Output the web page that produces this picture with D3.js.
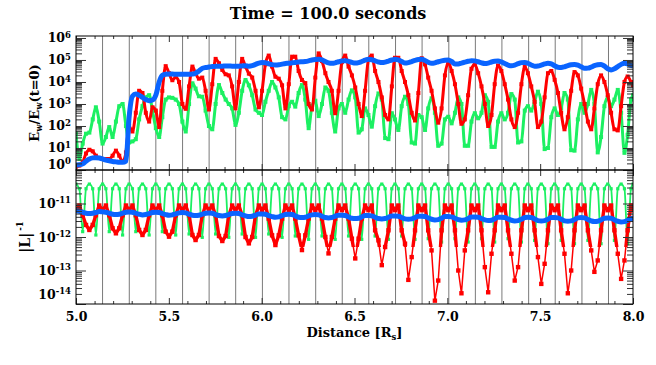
<!DOCTYPE html>
<html>
<head>
<meta charset="utf-8">
<script src="https://cdn.jsdelivr.net/npm/d3@7"></script>
<style>
  html, body { margin: 0; padding: 0; background: #fff; }
  svg { display: block; }
  text { font-family: "DejaVu Serif", serif; font-weight: bold; fill: #000; }
  .tick text { font-size: 12.5px; }
</style>
</head>
<body>
<svg id="chart" width="656" height="365"></svg>
<script>
// sample positions along the profile [R_s]
const distance = [
  5.000,5.018,5.036,5.054,5.072,5.090,5.107,5.125,
  5.143,5.161,5.179,5.197,5.215,5.233,5.251,5.269,
  5.286,5.304,5.322,5.340,5.358,5.376,5.394,5.412,
  5.430,5.448,5.465,5.483,5.501,5.519,5.537,5.555,
  5.573,5.591,5.609,5.627,5.644,5.662,5.680,5.698,
  5.716,5.734,5.752,5.770,5.788,5.806,5.823,5.841,
  5.859,5.877,5.895,5.913,5.931,5.949,5.967,5.985,
  6.002,6.020,6.038,6.056,6.074,6.092,6.110,6.128,
  6.146,6.164,6.181,6.199,6.217,6.235,6.253,6.271,
  6.289,6.307,6.325,6.343,6.360,6.378,6.396,6.414,
  6.432,6.450,6.468,6.486,6.504,6.522,6.539,6.557,
  6.575,6.593,6.611,6.629,6.647,6.665,6.683,6.701,
  6.718,6.736,6.754,6.772,6.790,6.808,6.826,6.844,
  6.862,6.880,6.897,6.915,6.933,6.951,6.969,6.987,
  7.005,7.023,7.041,7.059,7.076,7.094,7.112,7.130,
  7.148,7.166,7.184,7.202,7.220,7.238,7.255,7.273,
  7.291,7.309,7.327,7.345,7.363,7.381,7.399,7.417,
  7.434,7.452,7.470,7.488,7.506,7.524,7.542,7.560,
  7.578,7.596,7.613,7.631,7.649,7.667,7.685,7.703,
  7.721,7.739,7.757,7.775,7.792,7.810,7.828,7.846,
  7.864,7.882,7.900,7.918,7.936,7.954,7.971,7.989,
  8.000];

// vertical reference lines [R_s]
const gridX = [5.143,5.287,5.430,5.574,5.717,5.860,6.004,6.147,6.291,6.434,
               6.577,6.721,6.864,7.008,7.151,7.294,7.438,7.581,7.725,7.868];

// top panel: log10(E_w/E_w(t=0))
const ewBlueLog = [
  0.23,0.24,0.28,0.40,0.50,0.55,0.56,0.55,
  0.50,0.45,0.42,0.39,0.37,0.35,0.35,0.40,
  2.40,3.35,3.45,3.40,3.30,3.20,3.15,3.18,
  3.40,4.00,4.30,4.35,4.36,4.36,4.35,4.35,
  4.35,4.35,4.35,4.36,4.40,4.50,4.62,4.66,
  4.68,4.70,4.71,4.72,4.72,4.73,4.73,4.72,
  4.72,4.72,4.73,4.74,4.72,4.74,4.80,4.86,
  4.88,4.87,4.83,4.79,4.77,4.78,4.81,4.84,
  4.85,4.87,4.89,4.91,4.92,4.93,4.96,5.00,
  5.02,5.03,5.00,4.93,4.87,4.85,4.87,4.92,
  4.96,4.97,4.94,4.89,4.86,4.88,4.93,4.99,
  5.03,5.01,4.96,4.91,4.88,4.90,4.95,5.00,
  5.03,5.00,4.93,4.86,4.88,4.93,4.98,5.02,
  5.03,4.98,4.90,4.85,4.87,4.92,4.96,4.99,
  5.00,4.93,4.82,4.82,4.86,4.90,4.94,4.97,
  4.96,4.92,4.87,4.84,4.86,4.91,4.94,4.95,
  4.91,4.84,4.77,4.74,4.77,4.83,4.88,4.89,
  4.85,4.77,4.72,4.73,4.77,4.82,4.85,4.82,
  4.74,4.67,4.66,4.69,4.74,4.78,4.80,4.77,
  4.69,4.62,4.63,4.68,4.74,4.78,4.80,4.72,
  4.60,4.55,4.60,4.70,4.80,4.85,4.82,4.75,
  4.72];

const ewRedLog = [
  0.15,0.20,0.35,0.75,0.92,0.85,0.65,0.55,
  0.50,0.50,0.50,0.65,0.88,0.65,0.38,0.80,
  2.00,1.75,2.60,3.60,3.50,2.60,2.20,2.85,
  2.70,1.95,3.60,4.72,4.40,4.08,4.22,4.00,
  3.00,2.78,3.80,4.70,4.40,4.15,4.20,3.60,
  2.75,3.90,5.05,4.85,4.55,4.35,4.30,3.80,
  2.80,4.00,5.05,4.70,4.38,4.20,3.60,2.85,
  3.60,4.80,5.20,4.70,4.24,4.15,3.85,2.80,
  3.90,5.15,5.15,4.50,4.09,3.95,3.00,2.75,
  4.20,5.30,4.95,4.40,4.00,3.60,2.58,3.60,
  4.90,5.20,4.70,4.30,3.75,3.00,2.45,3.60,
  5.00,5.20,4.50,4.00,3.30,2.50,2.30,3.80,
  5.10,5.10,4.50,4.00,3.40,2.60,2.25,3.50,
  5.08,4.80,4.20,3.60,2.80,2.15,2.80,4.30,
  4.90,4.50,3.90,3.00,2.10,2.30,3.40,4.60,
  4.80,4.40,3.80,3.00,2.00,2.50,3.90,4.75,
  4.50,3.90,3.20,2.30,1.95,2.60,3.90,4.68,
  4.40,3.80,3.10,1.95,2.20,3.30,4.40,4.50,
  4.10,3.50,2.60,1.85,2.40,3.60,4.45,4.30,
  3.70,3.00,2.20,1.85,2.80,3.90,4.30,4.00,
  3.40,2.60,1.85,1.80,2.90,4.00,4.25,4.00,
  3.85];

const ewGreenLog = [
  1.67,0.50,1.20,1.65,1.70,2.30,2.85,2.20,
  1.20,1.50,1.95,1.50,2.20,2.90,3.00,2.00,
  1.25,1.30,1.40,2.30,2.90,3.30,3.40,2.70,
  1.90,1.50,2.40,3.20,3.30,3.28,3.20,3.00,
  2.20,1.75,3.00,3.94,3.70,3.35,3.33,2.70,
  2.00,1.85,3.00,3.86,3.50,3.20,3.00,2.80,
  2.05,2.60,3.60,4.09,3.85,3.40,2.75,2.60,
  2.50,3.10,3.60,4.00,3.75,3.30,2.40,2.30,
  2.90,3.10,2.88,3.50,3.86,3.20,1.90,2.90,
  3.15,2.45,3.00,3.75,3.60,2.60,1.75,2.80,
  3.00,2.60,3.20,3.62,3.30,1.70,1.85,2.80,
  2.50,1.97,2.90,3.48,3.20,1.45,1.40,2.58,
  2.30,1.82,2.90,3.33,3.00,1.25,1.20,2.50,
  2.40,1.82,2.80,3.26,2.60,1.10,1.20,2.30,
  2.42,2.12,2.60,3.30,3.00,1.10,1.10,2.20,
  2.58,2.35,2.60,3.40,3.10,1.05,1.05,2.20,
  2.58,2.30,2.60,3.45,3.20,1.25,1.30,2.70,
  2.90,2.70,3.10,3.56,3.00,0.95,1.00,2.40,
  2.80,2.50,2.80,3.50,3.20,0.90,0.88,2.30,
  3.00,2.60,3.00,3.64,3.00,0.80,1.50,2.90,
  3.30,2.90,3.20,3.64,2.60,0.78,1.60,3.20,
  3.40];

// bottom panel: log10(|L|^-1)
const lBlueLog = [
  -11.22,-11.23,-11.26,-11.29,-11.30,-11.29,-11.27,-11.24,
  -11.25,-11.26,-11.29,-11.32,-11.33,-11.32,-11.29,-11.26,
  -11.25,-11.26,-11.29,-11.32,-11.34,-11.33,-11.30,-11.27,
  -11.26,-11.27,-11.30,-11.33,-11.35,-11.34,-11.31,-11.28,
  -11.27,-11.28,-11.32,-11.35,-11.36,-11.35,-11.32,-11.29,
  -11.28,-11.29,-11.33,-11.36,-11.37,-11.36,-11.33,-11.30,
  -11.29,-11.30,-11.34,-11.37,-11.39,-11.38,-11.35,-11.31,
  -11.31,-11.32,-11.36,-11.39,-11.41,-11.40,-11.36,-11.33,
  -11.32,-11.33,-11.37,-11.41,-11.42,-11.41,-11.37,-11.34,
  -11.33,-11.34,-11.38,-11.42,-11.43,-11.42,-11.38,-11.35,
  -11.35,-11.36,-11.40,-11.44,-11.45,-11.44,-11.40,-11.36,
  -11.36,-11.37,-11.41,-11.45,-11.46,-11.45,-11.41,-11.37,
  -11.37,-11.38,-11.42,-11.46,-11.47,-11.46,-11.42,-11.38,
  -11.38,-11.39,-11.43,-11.47,-11.49,-11.48,-11.44,-11.39,
  -11.39,-11.40,-11.44,-11.48,-11.50,-11.49,-11.45,-11.40,
  -11.40,-11.41,-11.45,-11.49,-11.51,-11.50,-11.46,-11.41,
  -11.41,-11.42,-11.46,-11.50,-11.52,-11.51,-11.47,-11.42,
  -11.41,-11.42,-11.46,-11.51,-11.52,-11.51,-11.47,-11.42,
  -11.42,-11.43,-11.47,-11.52,-11.53,-11.52,-11.48,-11.43,
  -11.42,-11.43,-11.48,-11.52,-11.54,-11.53,-11.49,-11.44,
  -11.43,-11.44,-11.49,-11.53,-11.55,-11.54,-11.50,-11.45,
  -11.44];

const lRedLog = [
  -11.20,-11.06,-11.35,-11.64,-11.79,-11.64,-11.35,-11.06,
  -11.20,-11.06,-11.35,-11.74,-11.89,-11.74,-11.35,-11.06,
  -11.20,-11.06,-11.35,-11.79,-11.94,-11.79,-11.35,-11.06,
  -11.20,-11.06,-11.35,-11.84,-11.99,-11.84,-11.35,-11.06,
  -11.20,-11.06,-11.35,-11.94,-12.09,-11.94,-11.35,-11.06,
  -11.20,-11.06,-11.35,-11.97,-12.12,-11.97,-11.35,-11.06,
  -11.20,-11.06,-11.35,-12.00,-12.19,-12.00,-11.35,-11.06,
  -11.20,-11.06,-11.45,-11.95,-12.24,-11.95,-11.45,-11.06,
  -11.20,-11.06,-11.45,-11.95,-12.39,-11.95,-11.45,-11.06,
  -11.20,-11.06,-11.45,-12.00,-12.49,-12.00,-11.45,-11.06,
  -11.20,-11.06,-11.45,-12.05,-12.64,-12.05,-11.45,-11.06,
  -11.20,-11.06,-11.80,-12.10,-12.84,-12.30,-11.80,-11.06,
  -11.20,-11.06,-11.80,-12.20,-13.28,-12.60,-11.80,-11.06,
  -11.20,-11.06,-11.80,-12.40,-13.90,-13.30,-11.80,-11.06,
  -11.20,-11.06,-11.80,-13.00,-13.68,-12.40,-11.80,-11.06,
  -11.20,-11.06,-11.80,-12.90,-13.65,-12.50,-11.80,-11.06,
  -11.20,-11.06,-11.80,-12.50,-13.30,-12.90,-11.80,-11.06,
  -11.20,-11.06,-11.80,-12.60,-13.40,-12.80,-11.80,-11.06,
  -11.20,-11.06,-11.80,-12.50,-13.68,-13.00,-11.80,-11.06,
  -11.20,-11.06,-11.80,-12.40,-13.04,-12.70,-11.80,-11.06,
  -11.20,-11.06,-11.80,-12.50,-13.25,-12.70,-11.80,-11.06,
  -11.20];

const lGreenLog = [
  -10.42,-10.56,-11.84,-10.56,-10.42,-10.56,-11.94,-10.56,
  -10.42,-10.56,-11.84,-10.56,-10.42,-10.56,-11.94,-10.56,
  -10.42,-10.56,-11.84,-10.56,-10.42,-10.56,-11.94,-10.56,
  -10.42,-10.56,-11.84,-10.56,-10.42,-10.56,-11.94,-10.56,
  -10.42,-10.56,-11.91,-10.56,-10.42,-10.56,-12.01,-10.56,
  -10.42,-10.56,-11.91,-10.56,-10.42,-10.56,-12.01,-10.56,
  -10.42,-10.56,-11.91,-10.56,-10.42,-10.56,-12.01,-10.56,
  -10.42,-10.56,-11.91,-10.56,-10.42,-10.56,-12.01,-10.56,
  -10.42,-10.56,-11.97,-10.56,-10.42,-10.56,-12.07,-10.56,
  -10.42,-10.56,-11.97,-10.56,-10.42,-10.56,-12.07,-10.56,
  -10.42,-10.56,-11.97,-10.56,-10.42,-10.56,-12.07,-10.56,
  -10.42,-10.56,-11.97,-10.56,-10.42,-10.56,-12.07,-10.56,
  -10.42,-10.56,-11.97,-10.56,-10.42,-10.56,-12.07,-10.56,
  -10.42,-10.56,-12.05,-10.56,-10.42,-10.56,-12.15,-10.56,
  -10.42,-10.56,-12.05,-10.56,-10.42,-10.56,-12.15,-10.56,
  -10.42,-10.56,-12.05,-10.56,-10.42,-10.56,-12.15,-10.56,
  -10.42,-10.56,-12.05,-10.56,-10.42,-10.56,-12.15,-10.56,
  -10.42,-10.56,-12.10,-10.56,-10.42,-10.56,-12.20,-10.56,
  -10.42,-10.56,-12.10,-10.56,-10.42,-10.56,-12.20,-10.56,
  -10.42,-10.56,-12.10,-10.56,-10.42,-10.56,-12.20,-10.56,
  -10.42,-10.56,-12.10,-10.56,-10.42,-10.56,-12.20,-10.56,
  -10.42];

// axis ticks
const xMajor = [5.0, 5.5, 6.0, 6.5, 7.0, 7.5, 8.0];
const ewDecades = [1e0, 1e1, 1e2, 1e3, 1e4, 1e5, 1e6];
const lDecades = [1e-14, 1e-13, 1e-12, 1e-11, 1e-10];
const lLabelled = [1e-14, 1e-13, 1e-12, 1e-11];

const RED = "#ff0000", GREEN = "#1cf062", BLUE = "#0a64ff";

///////////////////////////////////////////////////////////////////////////////
// layout
const pL = 76, pR = 633, pT = 36, pM = 170, pB = 304;
const svg = d3.select("#chart");
svg.append("rect").attr("width", 656).attr("height", 365).attr("fill", "#fff");

const x = d3.scaleLinear().domain([5, 8]).range([pL, pR]);
const yTop = d3.scaleLog().domain([1, 1.23e6]).range([pM, pT]);
const yBot = d3.scaleLog().domain([1e-14, 1e-10]).range([pB, pM]);

const defs = svg.append("defs");
defs.append("clipPath").attr("id", "clipTop").append("rect")
  .attr("x", pL).attr("y", pT).attr("width", pR - pL).attr("height", pM - pT);
defs.append("clipPath").attr("id", "clipBot").append("rect")
  .attr("x", pL).attr("y", pM).attr("width", pR - pL).attr("height", pB - pM);
// dense part of the red curve (above ~5e-13) looks solid in the original
defs.append("clipPath").attr("id", "clipBotDense").append("rect")
  .attr("x", pL).attr("y", pM).attr("width", pR - pL).attr("height", yBot(5e-13) - pM);

// vertical reference lines through both panels
svg.append("g").selectAll("line").data(gridX).join("line")
  .attr("x1", d => x(d)).attr("x2", d => x(d))
  .attr("y1", pT).attr("y2", pB)
  .attr("stroke", "#7a7a7a").attr("stroke-width", 1);

///////////////////////////////////////////////////////////////////////////////
// series
function drawSeries(clip, yScale, logs, color, opt) {
  const g = svg.append("g").attr("clip-path", "url(#" + clip + ")");
  const pts = distance.map((d, i) => [x(d), yScale(Math.pow(10, logs[i]))]);
  g.append("path")
    .attr("d", d3.line().curve(opt.curve)(pts))
    .attr("fill", "none").attr("stroke", color)
    .attr("stroke-width", opt.width).attr("stroke-linejoin", "round");
  if (opt.square) {
    g.selectAll(null).data(pts).join("rect")
      .attr("x", p => p[0] - opt.square / 2).attr("y", p => p[1] - opt.square / 2)
      .attr("width", opt.square).attr("height", opt.square).attr("fill", color);
  }
}

drawSeries("clipTop", yTop, ewGreenLog, GREEN, {curve: d3.curveMonotoneX, width: 3, square: 4});
drawSeries("clipTop", yTop, ewRedLog, RED, {curve: d3.curveMonotoneX, width: 3, square: 4});
drawSeries("clipTop", yTop, ewBlueLog, BLUE, {curve: d3.curveMonotoneX, width: 5});

drawSeries("clipBot", yBot, lGreenLog, GREEN, {curve: d3.curveMonotoneX, width: 1.8, square: 3.2});
drawSeries("clipBot", yBot, lRedLog, RED, {curve: d3.curveLinear, width: 1.5, square: 4.4});
drawSeries("clipBotDense", yBot, lRedLog, RED, {curve: d3.curveLinear, width: 3.4});
drawSeries("clipBot", yBot, lBlueLog, BLUE, {curve: d3.curveMonotoneX, width: 5});

///////////////////////////////////////////////////////////////////////////////
// axes
const isDecade = v => Math.abs(Math.log10(v) - Math.round(Math.log10(v))) < 1e-6;
const xMinor = d3.range(50, 81).map(v => v / 10).filter(v => Math.abs(v * 2 - Math.round(v * 2)) > 1e-6);

function clean(g) { g.select(".domain").remove(); g.selectAll(".tick line").attr("stroke", "#333"); }

function yAxes(yScale, majors, labelled) {
  const minors = yScale.ticks().filter(v => !isDecade(v));
  svg.append("g").attr("transform", "translate(" + pL + ",0)")
    .call(d3.axisLeft(yScale).tickValues(majors).tickSizeInner(-10).tickSizeOuter(0).tickPadding(5)
      .tickFormat(v => labelled.some(l => Math.abs(Math.log10(l) - Math.log10(v)) < 1e-6) ? "10" : ""))
    .call(clean)
    .call(g => g.selectAll(".tick text").each(function(v) {
      const t = d3.select(this);
      if (t.text() === "") return;
      t.append("tspan").attr("dy", "-0.55em").attr("font-size", 8.5).text(Math.round(Math.log10(v)));
    }));
  svg.append("g").attr("transform", "translate(" + pL + ",0)")
    .call(d3.axisLeft(yScale).tickValues(minors).tickSizeInner(-6).tickSizeOuter(0).tickFormat(""))
    .call(clean);
  svg.append("g").attr("transform", "translate(" + pR + ",0)")
    .call(d3.axisRight(yScale).tickValues(majors).tickSizeInner(-10).tickSizeOuter(0).tickFormat(""))
    .call(clean);
  svg.append("g").attr("transform", "translate(" + pR + ",0)")
    .call(d3.axisRight(yScale).tickValues(minors).tickSizeInner(-6).tickSizeOuter(0).tickFormat(""))
    .call(clean);
}

function xAxes(y0, axisFn, labels) {
  svg.append("g").attr("transform", "translate(0," + y0 + ")")
    .call(axisFn(x).tickValues(xMajor).tickSizeInner(-6).tickSizeOuter(0).tickPadding(8)
      .tickFormat(labels ? d3.format(".1f") : ""))
    .call(clean);
  svg.append("g").attr("transform", "translate(0," + y0 + ")")
    .call(axisFn(x).tickValues(xMinor).tickSizeInner(-3).tickSizeOuter(0).tickFormat(""))
    .call(clean);
}

yAxes(yTop, ewDecades, ewDecades);
yAxes(yBot, lDecades, lLabelled);
xAxes(pT, d3.axisTop, false);
xAxes(pM, d3.axisBottom, false);
xAxes(pM, d3.axisTop, false);
xAxes(pB, d3.axisBottom, true);

// labels that sit on a panel edge are nudged inward, as in the original
svg.selectAll(".tick text").filter(v => v === 1).attr("transform", "translate(0,-6)");
svg.selectAll(".tick text").filter(v => v === 1e-14).attr("transform", "translate(0,-10)");

// frames
[[pT, pM], [pM, pB]].forEach(([a, b]) => {
  svg.append("rect").attr("x", pL).attr("y", a).attr("width", pR - pL).attr("height", b - a)
    .attr("fill", "none").attr("stroke", "#000").attr("stroke-width", 1);
});

///////////////////////////////////////////////////////////////////////////////
// titles
svg.append("text").attr("x", 328).attr("y", 19).attr("text-anchor", "middle")
  .attr("font-size", 16).text("Time = 100.0 seconds");

const xt = svg.append("text").attr("x", (pL + pR) / 2).attr("y", 337)
  .attr("text-anchor", "middle").attr("font-size", 13);
xt.append("tspan").text("Distance [R");
xt.append("tspan").attr("dy", 3).attr("font-size", 8.5).text("s");
xt.append("tspan").attr("dy", -3).text("]");

const yt1 = svg.append("text").attr("transform", "translate(38.5," + (pT + pM) / 2 + ") rotate(-90)")
  .attr("text-anchor", "middle").attr("font-size", 13);
yt1.append("tspan").text("E");
yt1.append("tspan").attr("dy", 3).attr("font-size", 8.5).text("w");
yt1.append("tspan").attr("dy", -3).text("/E");
yt1.append("tspan").attr("dy", 3).attr("font-size", 8.5).text("w");
yt1.append("tspan").attr("dy", -3).text("(t=0)");

const yt2 = svg.append("text").attr("transform", "translate(30," + (pM + pB) / 2 + ") rotate(-90)")
  .attr("text-anchor", "middle").attr("font-size", 14);
yt2.append("tspan").text("|L|");
yt2.append("tspan").attr("dx", 2).attr("dy", -7).attr("font-size", 8.5).text("-1");
</script>
</body>
</html>
